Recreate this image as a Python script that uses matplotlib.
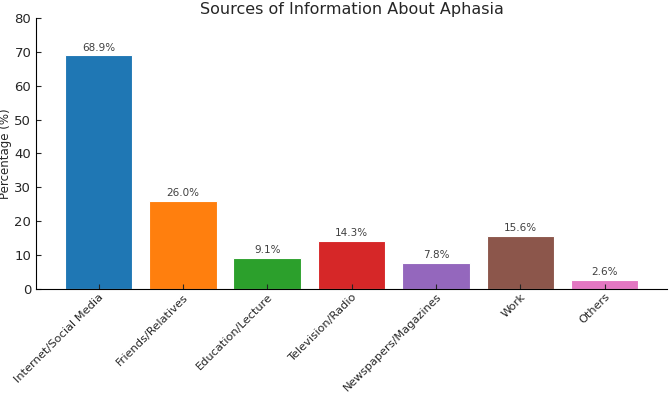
import matplotlib
matplotlib.use("Agg")
import matplotlib.pyplot as plt

sources = ['Internet/Social Media', 'Friends/Relatives', 'Education/Lecture',
           'Television/Radio', 'Newspapers/Magazines', 'Work', 'Others']
percent = [68.9, 26.0, 9.1, 14.3, 7.8, 15.6, 2.6]
colors = ['#1f77b4', '#ff7f0e', '#2ca02c', '#d62728', '#9467bd', '#8c564b', '#e377c2']

plt.rcParams['text.color'] = '#262626'
plt.rcParams['axes.labelcolor'] = '#262626'
plt.rcParams['xtick.color'] = '#262626'
plt.rcParams['ytick.color'] = '#262626'

fig, ax = plt.subplots(figsize=(6.69, 3.97), dpi=100)
bars = ax.bar(sources, percent, color=colors, edgecolor='white', linewidth=0.8)
for b, v in zip(bars, percent):
    ax.text(b.get_x() + b.get_width() / 2, v + 0.8, f'{v:.1f}%',
            ha='center', va='bottom', fontsize=7.5, color='#404040')

ax.set_ylim(0, 80)
ax.set_title('Sources of Information About Aphasia', fontsize=11.5, pad=3)
ax.set_ylabel('Percentage (%)', fontsize=8.5, labelpad=2)
ax.tick_params(direction='in', labelsize=9.5)
ax.tick_params(axis='x', labelsize=8.2, pad=2)
plt.setp(ax.get_xticklabels(), rotation=45, ha='right', rotation_mode='anchor')
ax.spines['top'].set_visible(False)
ax.spines['right'].set_visible(False)

fig.subplots_adjust(left=0.054, right=0.997, top=0.955, bottom=0.272)
fig.savefig('out.png', dpi=100)
